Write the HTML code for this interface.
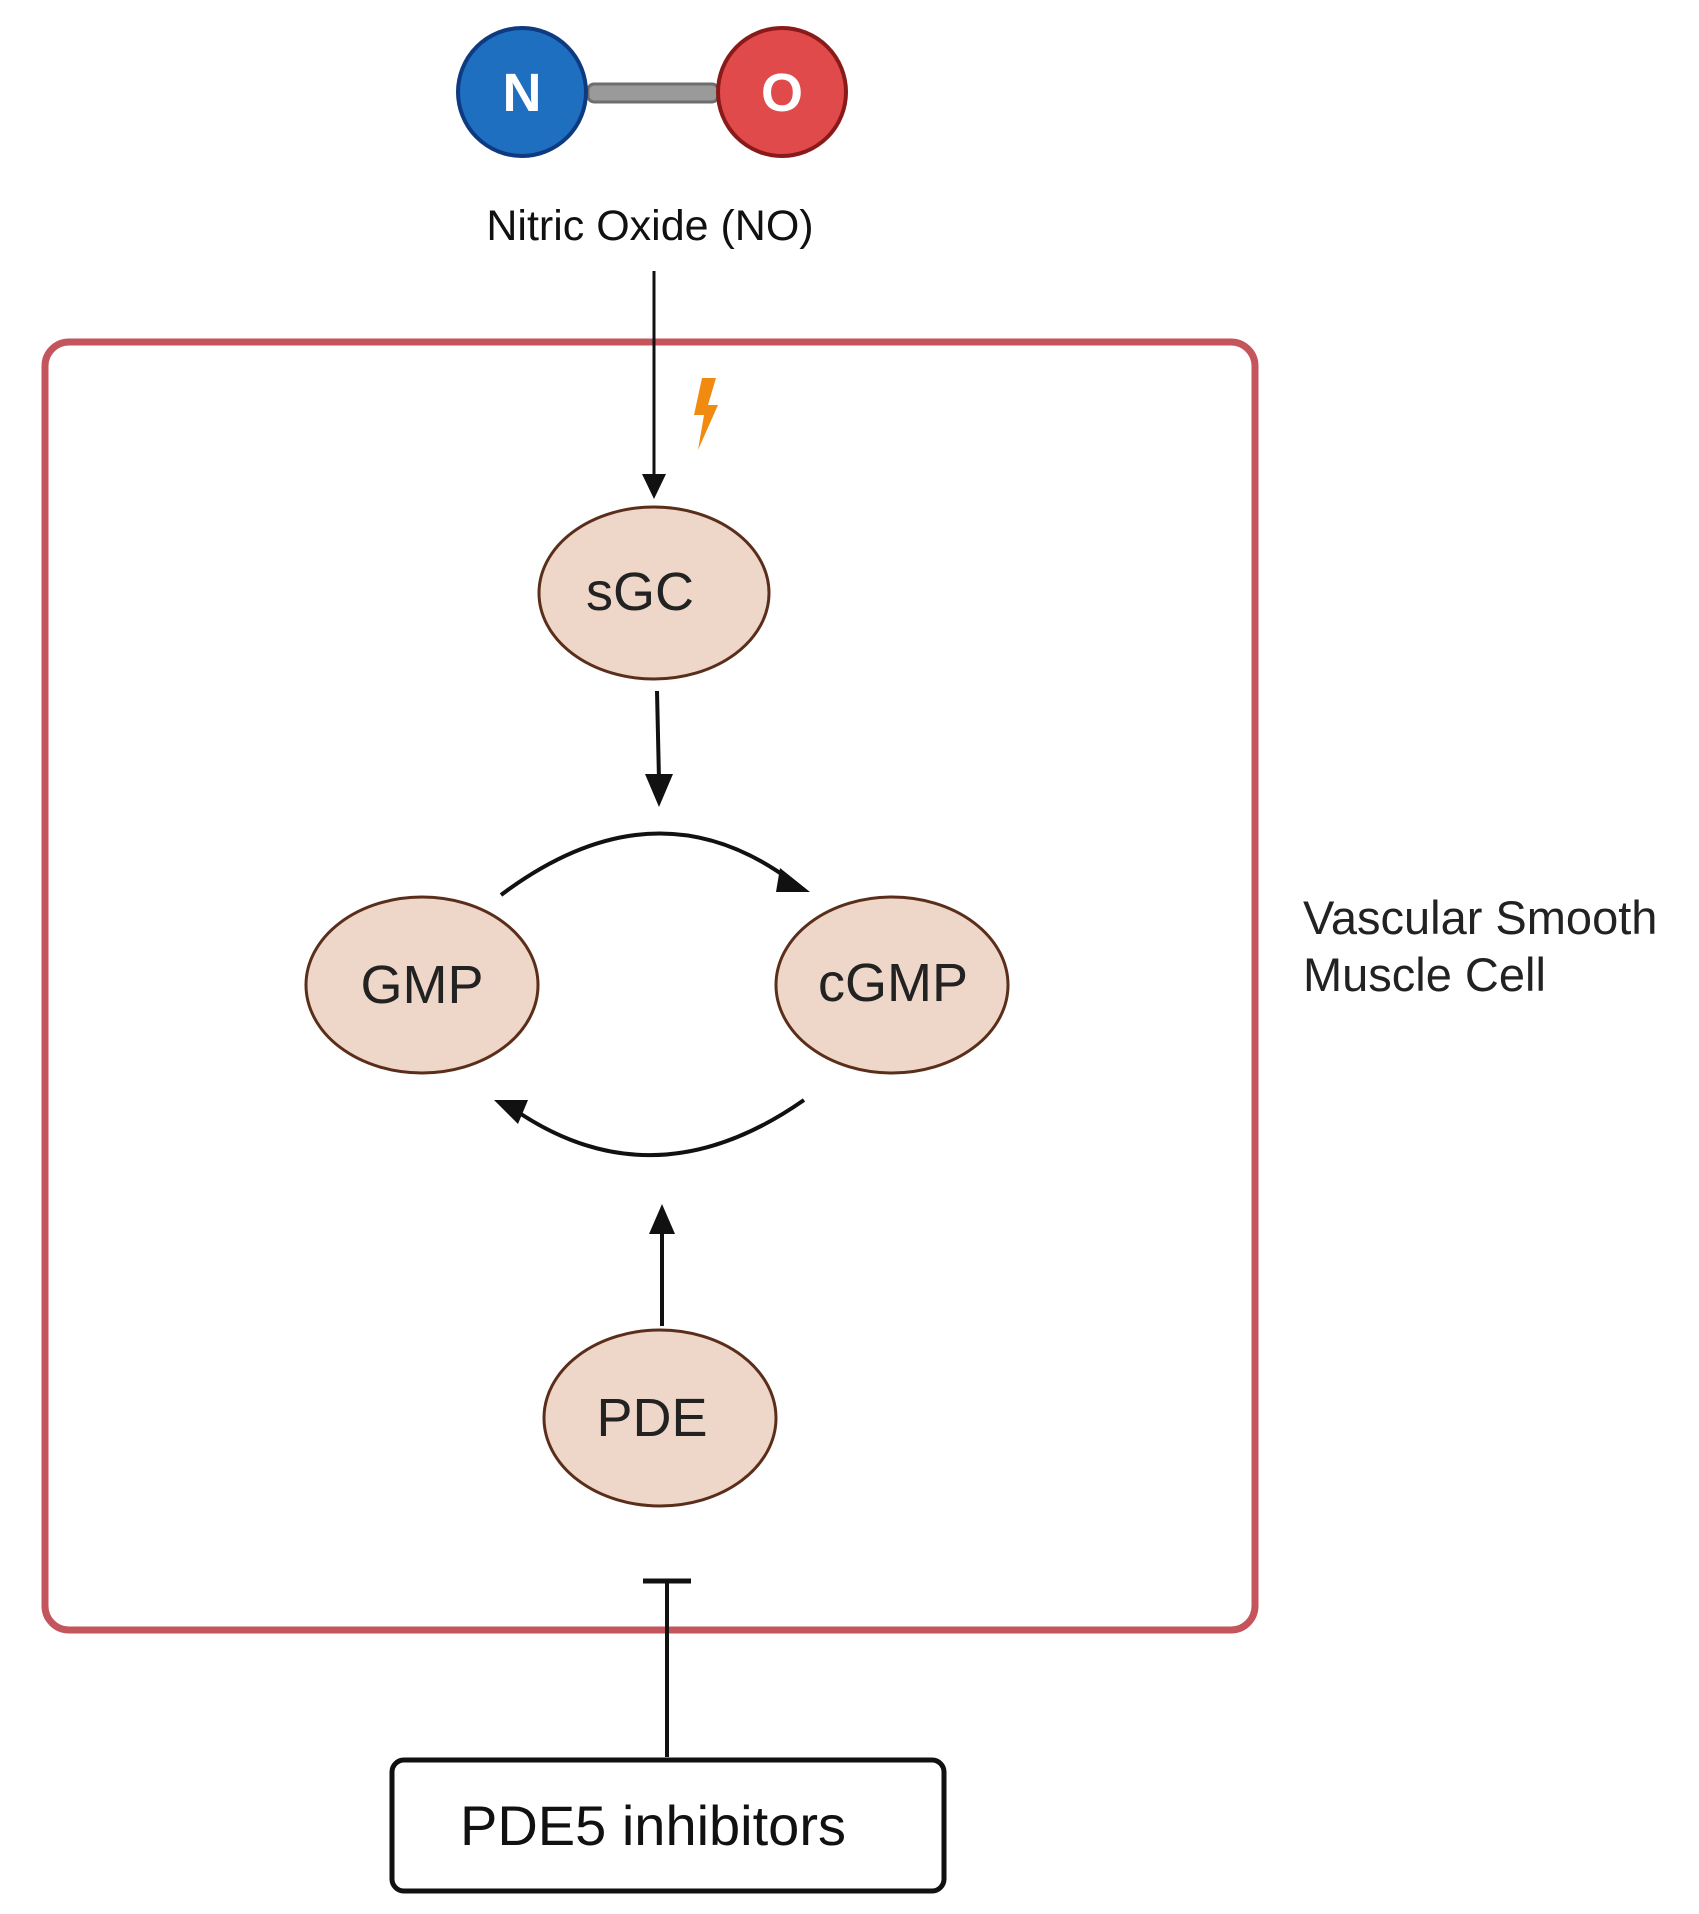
<!DOCTYPE html>
<html><head><style>
html,body{margin:0;padding:0;background:#fff;}
svg{display:block;}
text{font-family:"Liberation Sans",sans-serif;}
</style></head>
<body>
<svg width="1699" height="1914" viewBox="0 0 1699 1914" xmlns="http://www.w3.org/2000/svg">
<!-- NO molecule -->
<rect x="588" y="84" width="130" height="18" rx="6" fill="#9a9a9a" stroke="#6e6e6e" stroke-width="3"/>
<circle cx="522" cy="92" r="64" fill="#1f6fc0" stroke="#0d3a80" stroke-width="4"/>
<circle cx="782" cy="92" r="64" fill="#e04a4a" stroke="#8a1a1a" stroke-width="4"/>
<text x="522" y="111" font-size="54" font-weight="bold" fill="#fff" text-anchor="middle">N</text>
<text x="782" y="111" font-size="54" font-weight="bold" fill="#fff" text-anchor="middle">O</text>
<text x="650" y="240" font-size="43" fill="#111" text-anchor="middle">Nitric Oxide (NO)</text>

<!-- cell box -->
<rect x="45" y="342" width="1210" height="1288" rx="24" fill="none" stroke="#c4555c" stroke-width="7"/>

<!-- NO -> sGC arrow -->
<line x1="654" y1="271" x2="654" y2="480" stroke="#111" stroke-width="3"/>
<polygon points="642,474 666,474 654,499" fill="#111"/>
<!-- lightning -->
<polygon points="702,378 716,378 708,405 718,405 698,450 704,415 694,415" fill="#f08a10"/>

<!-- sGC -->
<ellipse cx="654" cy="593" rx="115" ry="86" fill="#eed7c8" stroke="#5a2e1a" stroke-width="3"/>
<text x="640" y="610" font-size="54" fill="#222" text-anchor="middle">sGC</text>

<!-- sGC down arrow -->
<line x1="657" y1="691" x2="659" y2="780" stroke="#111" stroke-width="4"/>
<polygon points="645,774 673,774 659,807" fill="#111"/>

<!-- top arc -->
<path d="M501,895 Q654,780 790,880" fill="none" stroke="#111" stroke-width="4"/>
<polygon points="780,868 810,892 776,892" fill="#111"/>

<!-- GMP / cGMP -->
<ellipse cx="422" cy="985" rx="116" ry="88" fill="#eed7c8" stroke="#5a2e1a" stroke-width="3"/>
<text x="422" y="1003" font-size="54" fill="#222" text-anchor="middle">GMP</text>
<ellipse cx="892" cy="985" rx="116" ry="88" fill="#eed7c8" stroke="#5a2e1a" stroke-width="3"/>
<text x="893" y="1001" font-size="54" fill="#222" text-anchor="middle">cGMP</text>

<!-- bottom arc -->
<path d="M804,1100 Q654,1205 515,1110" fill="none" stroke="#111" stroke-width="4"/>
<polygon points="494,1100 528,1100 518,1124" fill="#111"/>

<!-- PDE up arrow -->
<line x1="662" y1="1326" x2="662" y2="1230" stroke="#111" stroke-width="4"/>
<polygon points="649,1234 675,1234 662,1204" fill="#111"/>

<!-- PDE -->
<ellipse cx="660" cy="1418" rx="116" ry="88" fill="#eed7c8" stroke="#5a2e1a" stroke-width="3"/>
<text x="652" y="1436" font-size="54" fill="#222" text-anchor="middle">PDE</text>

<!-- inhibition -->
<line x1="667" y1="1581" x2="667" y2="1757" stroke="#111" stroke-width="4"/>
<line x1="643" y1="1581" x2="691" y2="1581" stroke="#111" stroke-width="5"/>

<!-- PDE5 box -->
<rect x="392" y="1760" width="552" height="131" rx="12" fill="#fff" stroke="#111" stroke-width="5"/>
<text x="653" y="1845" font-size="56" fill="#111" text-anchor="middle">PDE5 inhibitors</text>

<!-- cell label -->
<text x="1303" y="934" font-size="47" fill="#222">Vascular Smooth</text>
<text x="1303" y="991" font-size="47" fill="#222">Muscle Cell</text>
</svg>
</body></html>
